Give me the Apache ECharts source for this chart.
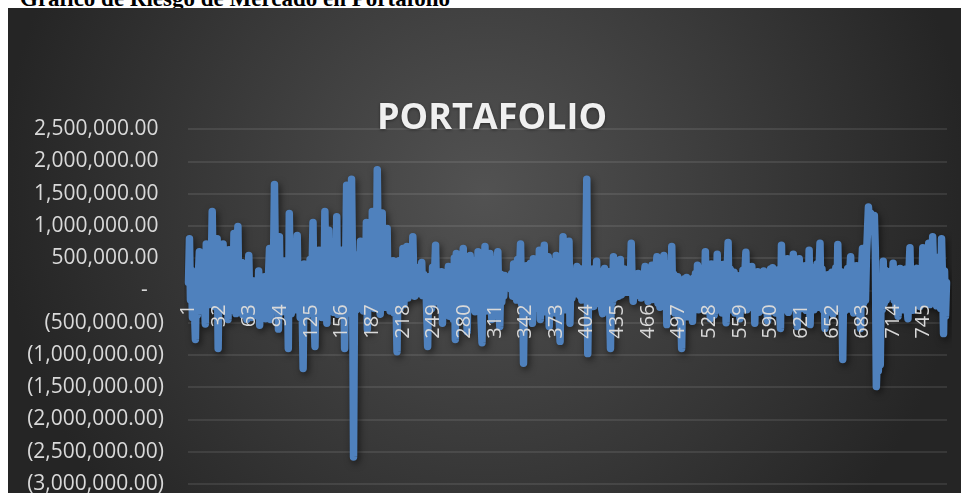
<!DOCTYPE html>
<html>
<head>
<meta charset="utf-8">
<script src="https://cdn.jsdelivr.net/npm/echarts@6/dist/echarts.min.js"></script>
<style>
  html, body { margin: 0; padding: 0; background: #fff; width: 961px; height: 493px; overflow: hidden; position: relative; }
  #encabezado { position: absolute; left: 20px; top: -14px; font: bold 23px "Liberation Serif", serif; line-height: 26px; color: #000; white-space: nowrap; }
  #chart { position: absolute; left: 8px; top: 8px; width: 953px; height: 485px; }
</style>
</head>
<body>
<div id="encabezado">Gráfico de Riesgo de Mercado en Portafolio</div>
<div id="chart"></div>
<script>
// titulo y eje Y
const tituloGrafico = "PORTAFOLIO";
const ejeYMin = -3000000;
const ejeYMax = 2500000;
const ejeYPaso = 500000;

// valores del portafolio en miles (768 observaciones)
const portafolioMiles = [
  120, 800, -150, 310, -420, 180, -300, -760, 90, -380, 240, 600, -120, 350, -260, 410, -90, -520, 720, 150,
  -220, 460, -200, 280, 1220, 90, -250, 520, -180, 800, -900, 330, -240, 610, -70, 720, -280, 260, -330, 470,
  -450, 630, 20, -310, 380, -190, 880, 140, -360, 520, 990, -240, 300, -150, 430, -380, 210, -300, 120, -450,
  80, 540, -200, 160, -420, 150, -330, 60, -250, 120, -400, 300, -540, 100, -380, 40, -290, 210, -440, 160,
  -300, 250, 650, -450, 180, -260, 420, 1640, 300, -200, 260, -600, 830, -150, 340, -330, 200, -280, 460, -120,
  230, -900, 1190, 50, -360, 380, -210, 510, -300, 220, 850, -180, 300, -420, 160, -260, -1210, 410, -150, 250,
  -380, 330, -200, 480, -90, 290, 1050, -330, -870, 200, -240, 410, 620, -300, 150, -420, 340, -180, 1220, 260,
  -510, 380, 930, -120, 450, -280, 300, -340, 520, -100, 1140, -370, 410, -200, 280, 620, -300, 350, -900, 400,
  1630, 280, -350, 500, -200, 1720, 320, -2580, -100, 550, -300, 480, -150, 290, 760, -260, 500, -320, 600, -100,
  1050, -600, 450, -220, 620, -150, 1220, 300, -280, 540, 150, 1870, 480, -200, -370, 560, 1200, -150, 420, -260,
  380, 960, -230, 310, -320, 180, -210, 460, -350, 240, -180, -950, 150, 460, -290, 320, -140, 650, -220, 380,
  90, 680, -120, 310, 40, 520, -60, 830, 150, -90, 360, 80, -50, 290, -30, 180, 430, -80, 250, -40,
  200, -300, -870, 210, -150, 120, -280, 360, -190, 280, 700, -120, 240, -20, 170, -260, 290, -510, 190, -230,
  260, -340, 150, 370, -400, 230, -290, 310, -450, 500, -760, 570, -380, 290, -200, 420, -330, 360, 650, -420,
  380, -250, -640, 310, -180, 540, -290, 450, -150, 380, -330, 470, -210, 600, -280, 330, -420, -810, 400, -190,
  680, -320, 440, -250, 310, 570, -200, -450, 390, -300, 480, -140, 350, 600, -240, -560, 250, -180, 140, -90,
  230, 80, 60, 180, 100, 210, 20, 260, -90, 410, 50, 300, -150, 480, -80, 350, 720, -210, 260, -1130,
  150, -300, 380, -190, 250, -350, 420, -120, -510, 490, -240, 330, -170, 410, -280, 620, -450, 360, -200, 480,
  700, -330, 290, -150, 520, -560, 310, -260, 440, -180, 370, -350, 540, -210, 300, -400, -790, 260, -150, 830,
  240, -300, 520, -180, 410, 760, -510, 300, -120, 250, -60, 180, 20, 370, -50, 260, -80, 330, -150, 200,
  310, -120, 420, 1720, -980, 150, -200, 290, -90, 330, -250, 240, -150, 450, -200, 300, -100, 260, -280, -360,
  210, 340, -220, 180, -310, 290, -150, -900, 200, -190, 520, -120, 300, -60, 250, -90, 150, 480, -70, 210,
  -40, 330, 20, 260, -30, -60, 310, 90, 730, 40, -170, 250, -20, 180, 60, 260, -80, 200, -120, 150,
  -90, 220, 370, -50, 240, -170, 310, -30, 200, 390, -140, 280, -90, 330, 520, -200, 290, -260, 340, -180,
  260, 540, -220, 310, -530, 280, -140, 420, -310, 680, -200, 250, -350, 150, -260, 210, -420, 100, -300, -900,
  120, -350, 180, -220, 200, -410, 90, -280, 160, -330, -480, 190, -250, 260, -160, 390, -300, 240, -200, 310,
  -280, 350, -150, 600, -320, 280, -200, 330, -440, 410, -250, 300, -380, 260, -190, 560, -300, 340, -230, 280,
  -350, 400, -180, 310, -500, 270, 740, -220, 330, -300, 210, -160, 280, -350, 150, 230, -280, 120, -440, 200,
  -230, 310, -150, 260, 590, -300, 220, -200, 340, -260, 370, -180, 250, -510, 180, -220, 290, -340, 150, -280,
  240, -190, 300, -310, 200, -150, -470, 280, -220, 330, -120, 350, -290, 210, -350, 270, -160, 320, -250, -590,
  700, -210, 360, -300, 250, -180, 490, -340, 280, -150, 330, -270, 560, -200, 300, -330, -560, 240, 490, -190,
  310, -280, 220, -160, 380, -310, 260, -230, 620, -530, 290, -180, 340, -300, 250, -140, 410, -260, 300, 730,
  -220, 330, -300, 200, -590, 150, -250, 240, -330, 190, -200, 280, -370, 220, -150, 350, -280, 710, -190, 300,
  -250, 240, -1070, 180, -320, 290, -180, 340, -290, 260, 520, -220, 310, -350, 200, -170, 380, -260, 290, -200,
  -590, 300, 650, -200, 410, -150, 520, 900, 1290, 1100, 1200, 950, 1150, 1080, 1160, 600, -1490, -1000, -1250, -900,
  -1150, 200, -300, 450, -200, 310, -150, 260, -50, 180, -90, 300, 40, 420, -150, 250, -280, 310, -400, 200,
  340, -220, 280, -300, 210, -190, 330, -250, -440, 290, 660, -170, 250, -310, 200, -130, 280, 340, -220, 260,
  -250, 310, -90, 660, -180, 290, -120, 410, -200, 730, -220, 350, -150, 830, 280, -170, 420, -240, 360, -190,
  520, -280, 800, 150, -670, 300, -400, 120
];

// categorias del eje X: numero de observacion 1..N
const categorias = portafolioMiles.map((_, i) => String(i + 1));
const valores = portafolioMiles.map((v) => v * 1000);

// formato contable de Excel: negativos entre parentesis, cero como guion
const formatoContable = (v) => {
  if (v === 0) return "-   ";
  const s = Math.abs(v).toLocaleString("en-US", { minimumFractionDigits: 2, maximumFractionDigits: 2 });
  return v < 0 ? "(" + s + ")" : s + " ";
};

// geometria del area de trazado (px dentro del grafico)
const gridTop = 121;
const gridBottom = 9;
const gridHeight = 485 - gridTop - gridBottom;
// el eje X se dibuja sobre la linea de cero
const pxCero = gridTop + gridHeight * (ejeYMax / (ejeYMax - ejeYMin));
const offsetEjeX = -(485 - gridBottom - pxCero);

var myChart = echarts.init(document.getElementById("chart"));

var option = {
  animation: false,
  backgroundColor: new echarts.graphic.RadialGradient(0.5, 0.38, 1.0, [
    { offset: 0, color: "#525252" },
    { offset: 1, color: "#252525" },
  ]),
  title: {
    text: tituloGrafico,
    left: 364,
    top: 88,
    textStyle: {
      color: "#f0f0f0",
      fontFamily: "Open Sans",
      fontWeight: "bold",
      fontSize: 36,
      textShadowColor: "rgba(0,0,0,0.45)",
      textShadowBlur: 3,
      textShadowOffsetY: 1,
    },
  },
  grid: { left: 180, right: 14, top: gridTop, bottom: gridBottom, containLabel: false, outerBoundsMode: "none" },
  xAxis: {
    type: "category",
    data: categorias,
    position: "bottom",
    offset: offsetEjeX,
    z: 5,
    axisLine: { show: false, onZero: false },
    axisTick: { show: false },
    axisLabel: {
      interval: 30,
      rotate: 90,
      margin: 14,
      color: "#d9d9d9",
      fontFamily: "Open Sans",
      fontSize: 20,
    },
    splitLine: { show: false },
  },
  yAxis: {
    type: "value",
    min: ejeYMin,
    max: ejeYMax,
    interval: ejeYPaso,
    axisLine: { show: false },
    axisTick: { show: false },
    axisLabel: {
      margin: 24,
      color: "#d9d9d9",
      fontFamily: "Open Sans",
      fontSize: 21,
      formatter: formatoContable,
    },
    splitLine: { lineStyle: { color: "rgba(255,255,255,0.12)", width: 1.5 } },
  },
  series: [
    {
      name: tituloGrafico,
      type: "line",
      data: valores,
      showSymbol: false,
      symbol: "none",
      itemStyle: { color: "#4f81bd" },
      lineStyle: {
        color: "#4f81bd",
        width: 7.5,
        cap: "round",
        join: "round",
        shadowColor: "rgba(0,0,0,0.55)",
        shadowBlur: 7,
        shadowOffsetX: 2,
        shadowOffsetY: 3,
      },
    },
  ],
};

myChart.setOption(option);
</script>
</body>
</html>
